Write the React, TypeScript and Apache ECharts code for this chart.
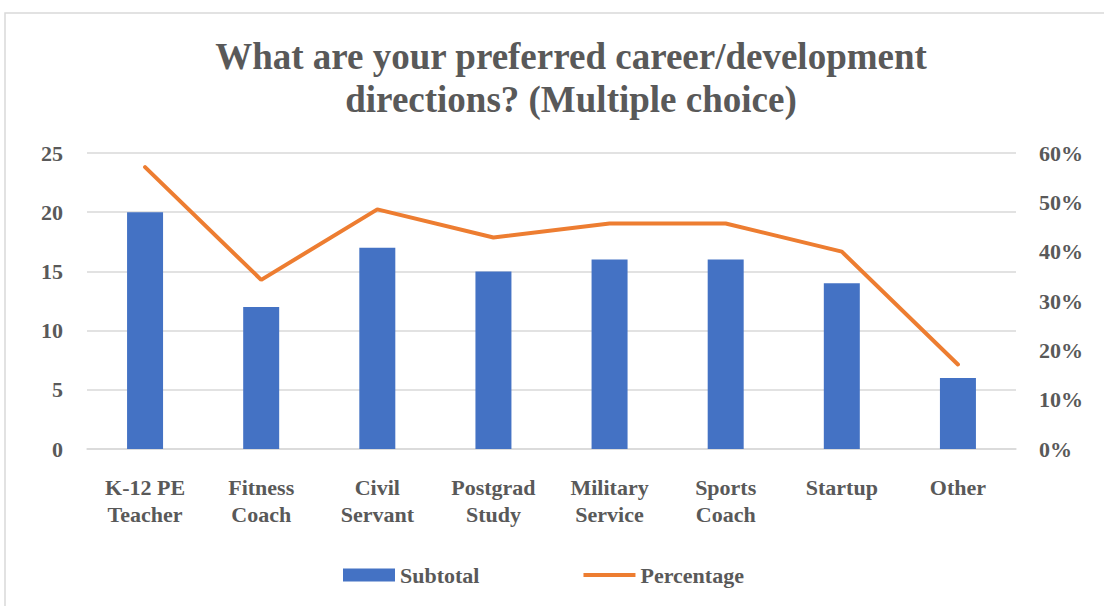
import React, { useEffect, useRef } from "react";
import * as echarts from "echarts";

const categories = [
  "K-12 PE\nTeacher",
  "Fitness\nCoach",
  "Civil\nServant",
  "Postgrad\nStudy",
  "Military\nService",
  "Sports\nCoach",
  "Startup",
  "Other",
];
const subtotal = [20, 12, 17, 15, 16, 16, 14, 6];
const percentage = [57.14, 34.29, 48.57, 42.86, 45.71, 45.71, 40.0, 17.14];
const leftTicks = { min: 0, max: 25, interval: 5 };
const rightTicks = { min: 0, max: 60, interval: 10 };

const FONT = "'Liberation Serif', 'Times New Roman', serif";
const GRAY = "#595959";

export default function App() {
  const ref = useRef<HTMLDivElement>(null);
  useEffect(() => {
    if (!ref.current) return;
    const chart = echarts.init(ref.current, undefined, { renderer: "svg" });
    chart.setOption({
      animation: false,
      backgroundColor: "#ffffff",
      textStyle: { fontFamily: FONT },
      graphic: [
        {
          type: "rect",
          shape: { x: 5, y: 13, width: 1110, height: 610 },
          style: { fill: "none", stroke: "#d9d9d9", lineWidth: 1.5 },
          silent: true,
        },
      ],
      title: {
        text: "What are your preferred career/development\ndirections? (Multiple choice)",
        left: 566,
        top: 30,
        textAlign: "center",
        textStyle: {
          fontFamily: FONT,
          fontWeight: "bold",
          fontSize: 37,
          lineHeight: 43,
          color: GRAY,
        },
      },
      grid: { left: 87, right: 88, top: 153, bottom: 157 },
      legend: {
        left: 338,
        top: 559,
        itemWidth: 52,
        itemHeight: 13,
        itemGap: 104,
        textStyle: { fontFamily: FONT, fontWeight: "bold", fontSize: 22, color: GRAY },
        data: [
          { name: "Subtotal", icon: "rect" },
          { name: "Percentage", icon: "path://M0 0H55V4H0Z" },
        ],
      },
      xAxis: {
        type: "category",
        data: categories,
        axisLine: { show: true, lineStyle: { color: "#d9d9d9", width: 1.5 } },
        axisTick: { show: false },
        axisLabel: {
          fontFamily: FONT,
          fontWeight: "bold",
          fontSize: 22,
          lineHeight: 27,
          color: GRAY,
          margin: 25,
          interval: 0,
        },
      },
      yAxis: [
        {
          type: "value",
          min: leftTicks.min,
          max: leftTicks.max,
          interval: leftTicks.interval,
          axisLine: { show: false },
          axisTick: { show: false },
          splitLine: { lineStyle: { color: "#d9d9d9", width: 1.5 } },
          axisLabel: {
            fontFamily: FONT,
            fontWeight: "bold",
            fontSize: 22,
            color: GRAY,
            margin: 24,
          },
        },
        {
          type: "value",
          min: rightTicks.min,
          max: rightTicks.max,
          interval: rightTicks.interval,
          axisLine: { show: false },
          axisTick: { show: false },
          splitLine: { show: false },
          axisLabel: {
            fontFamily: FONT,
            fontWeight: "bold",
            fontSize: 22,
            color: GRAY,
            margin: 23,
            formatter: "{value}%",
          },
        },
      ],
      series: [
        {
          name: "Subtotal",
          type: "bar",
          data: subtotal,
          barWidth: "31%",
          itemStyle: { color: "#4472C4" },
          yAxisIndex: 0,
        },
        {
          name: "Percentage",
          type: "line",
          data: percentage,
          yAxisIndex: 1,
          symbol: "none",
          showSymbol: false,
          lineStyle: { color: "#ED7D31", width: 4, cap: "round" },
          itemStyle: { color: "#ED7D31" },
        },
      ],
    });
    return () => chart.dispose();
  }, []);
  return (
    <div
      ref={ref}
      style={{ position: "fixed", left: 0, top: 0, width: 1104, height: 606 }}
    />
  );
}
